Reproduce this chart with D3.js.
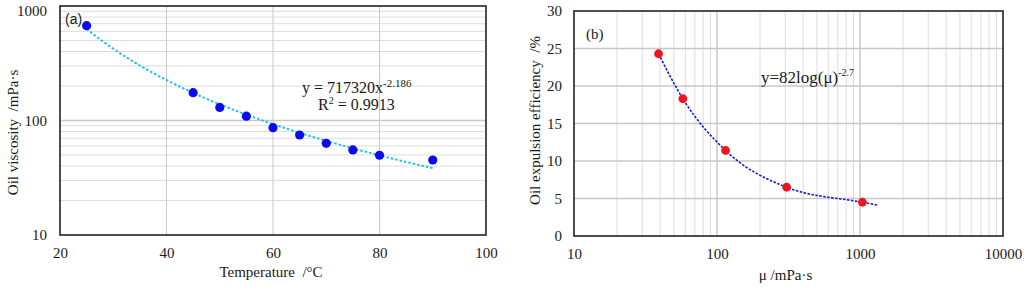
<!DOCTYPE html>
<html>
<head>
<meta charset="utf-8">
<script src="https://cdn.jsdelivr.net/npm/d3@7"></script>
<style>
  body { margin: 0; background: #ffffff; }
  svg { display: block; }
  text { font-family: "Liberation Serif", "Times New Roman", serif; fill: #1a1a1a; }
</style>
</head>
<body>
<div id="container"></div>
<script>
/* DATA */
// panel (a): oil viscosity vs temperature
const temperature = [25, 45, 50, 55, 60, 65, 70, 75, 80, 90];
const viscosity = [673, 175, 130, 109, 86.5, 74.7, 63.2, 55.3, 49.7, 45.2];
const fitCoef = 717320, fitExp = -2.186;   // power trendline shown on the chart
const xTicksA = [20, 40, 60, 80, 100];
const yTicksA = [10, 100, 1000];

// panel (b): oil expulsion efficiency vs viscosity
const mu = [39, 57.7, 114.8, 307, 1039];
const expulsion = [24.3, 18.3, 11.4, 6.5, 4.5];
// dashed trend curve
const trendMu = [39, 57.7, 114.8, 307, 1039, 1346];
const trendEff = [24.3, 18.3, 11.4, 6.5, 4.5, 4.1];
const xTicksB = [10, 100, 1000, 10000];
const yTicksB = [0, 5, 10, 15, 20, 25, 30];

/* CONSTANTS AND GLOBALS */
const width = 1024, height = 288;
const gridColor = "#dcdcdc", majorGrid = "#c8c8c8";

const svg = d3.select("#container")
  .append("svg")
  .attr("width", width)
  .attr("height", height);

/* ===== PANEL (a) ===== */
const boxA = { left: 60, right: 486, top: 6, bottom: 235 };

const xA = d3.scaleLinear().domain([20, 100]).range([boxA.left, boxA.right]);
const yA = d3.scaleLog().domain([10, 1000]).range([boxA.bottom, boxA.top]);

const gA = svg.append("g");

// minor log gridlines
gA.selectAll("line.hgrid")
  .data(yA.ticks().filter(d => !yTicksA.includes(d)))
  .join("line")
  .attr("class", "hgrid")
  .attr("x1", boxA.left).attr("x2", boxA.right)
  .attr("y1", d => yA(d)).attr("y2", d => yA(d))
  .attr("stroke", gridColor).attr("stroke-width", 1);

gA.selectAll("line.hmajor")
  .data(yTicksA.slice(1, -1))
  .join("line")
  .attr("class", "hmajor")
  .attr("x1", boxA.left).attr("x2", boxA.right)
  .attr("y1", d => yA(d)).attr("y2", d => yA(d))
  .attr("stroke", majorGrid).attr("stroke-width", 1.5);

gA.selectAll("line.vgrid")
  .data(xTicksA.slice(1, -1))
  .join("line")
  .attr("class", "vgrid")
  .attr("x1", d => xA(d)).attr("x2", d => xA(d))
  .attr("y1", boxA.top).attr("y2", boxA.bottom)
  .attr("stroke", majorGrid).attr("stroke-width", 1);

// frame
gA.append("rect")
  .attr("x", boxA.left).attr("y", boxA.top)
  .attr("width", boxA.right - boxA.left)
  .attr("height", boxA.bottom - boxA.top)
  .attr("fill", "none").attr("stroke", "#222").attr("stroke-width", 1.6);

// axes (labels only, the frame does the lines)
const axisA_x = gA.append("g")
  .attr("transform", `translate(0,${boxA.bottom})`)
  .call(d3.axisBottom(xA).tickValues(xTicksA).tickSize(0).tickPadding(12).tickFormat(d3.format("d")));
const axisA_y = gA.append("g")
  .attr("transform", `translate(${boxA.left},0)`)
  .call(d3.axisLeft(yA).tickValues(yTicksA).tickSize(0).tickPadding(13).tickFormat(d3.format("d")));
[axisA_x, axisA_y].forEach(a => {
  a.select(".domain").remove();
  a.selectAll("text").style("font-family", '"Liberation Serif", serif').style("font-size", "15px").attr("fill", "#1a1a1a");
});
// keep the top label inside the page
axisA_y.selectAll(".tick text").filter(d => d === 1000).attr("dy", "0.62em");

// trendline from the displayed power fit
const trendA = d3.range(25, 90.01, 0.5).map(t => [t, fitCoef * Math.pow(t, fitExp)]);
gA.append("path")
  .datum(trendA)
  .attr("fill", "none")
  .attr("stroke", "#1ec0ef")
  .attr("stroke-width", 2)
  .attr("stroke-dasharray", "2.5,2")
  .attr("d", d3.line().x(d => xA(d[0])).y(d => yA(d[1])));

gA.selectAll("circle.pt")
  .data(temperature.map((t, i) => ({ t, v: viscosity[i] })))
  .join("circle")
  .attr("class", "pt")
  .attr("cx", d => xA(d.t))
  .attr("cy", d => yA(d.v))
  .attr("r", 4.6)
  .attr("fill", "#0b0bf2");

// labels
gA.append("text")
  .attr("x", 65).attr("y", 24)
  .style("font-family", '"Liberation Sans", Arial, sans-serif')
  .style("font-size", "14px")
  .text("(a)");

const eqA = gA.append("text").attr("x", 302).attr("y", 93).style("font-size", "16px");
eqA.append("tspan").text("y = 717320x");
eqA.append("tspan").attr("dy", -6).style("font-size", "11px").text("-2.186");

const r2 = gA.append("text").attr("x", 318).attr("y", 110).style("font-size", "16px");
r2.append("tspan").text("R");
r2.append("tspan").attr("dy", -6).style("font-size", "10px").text("2");
r2.append("tspan").attr("dy", 6).text(" = 0.9913");

gA.append("text")
  .attr("x", (boxA.left + boxA.right) / 2 - 2)
  .attr("y", 277)
  .attr("text-anchor", "middle")
  .style("font-size", "15px")
  .style("white-space", "pre")
  .text("Temperature  /°C");

gA.append("text")
  .attr("transform", `translate(18,${(boxA.top + boxA.bottom) / 2 + 12}) rotate(-90)`)
  .attr("text-anchor", "middle")
  .style("font-size", "15px")
  .style("white-space", "pre")
  .text("Oil viscosity  /mPa·s");

/* ===== PANEL (b) ===== */
const boxB = { left: 574, right: 1003, top: 11, bottom: 236 };

const xB = d3.scaleLog().domain([10, 10000]).range([boxB.left, boxB.right]);
const yB = d3.scaleLinear().domain([0, 30]).range([boxB.bottom, boxB.top]);

const gB = svg.append("g");

gB.selectAll("line.vgrid")
  .data(xB.ticks().filter(d => !xTicksB.includes(d)))
  .join("line")
  .attr("class", "vgrid")
  .attr("x1", d => xB(d)).attr("x2", d => xB(d))
  .attr("y1", boxB.top).attr("y2", boxB.bottom)
  .attr("stroke", gridColor).attr("stroke-width", 1);

gB.selectAll("line.vmajor")
  .data(xTicksB.slice(1, -1))
  .join("line")
  .attr("class", "vmajor")
  .attr("x1", d => xB(d)).attr("x2", d => xB(d))
  .attr("y1", boxB.top).attr("y2", boxB.bottom)
  .attr("stroke", majorGrid).attr("stroke-width", 1.5);

gB.selectAll("line.hgrid")
  .data(yTicksB.slice(1, -1))
  .join("line")
  .attr("class", "hgrid")
  .attr("x1", boxB.left).attr("x2", boxB.right)
  .attr("y1", d => yB(d)).attr("y2", d => yB(d))
  .attr("stroke", majorGrid).attr("stroke-width", 1.5);

gB.append("rect")
  .attr("x", boxB.left).attr("y", boxB.top)
  .attr("width", boxB.right - boxB.left)
  .attr("height", boxB.bottom - boxB.top)
  .attr("fill", "none").attr("stroke", "#222").attr("stroke-width", 1.6);

const axisB_x = gB.append("g")
  .attr("transform", `translate(0,${boxB.bottom})`)
  .call(d3.axisBottom(xB).tickValues(xTicksB).tickSize(0).tickPadding(12).tickFormat(d3.format("d")));
const axisB_y = gB.append("g")
  .attr("transform", `translate(${boxB.left},0)`)
  .call(d3.axisLeft(yB).tickValues(yTicksB).tickSize(0).tickPadding(12).tickFormat(d3.format("d")));
[axisB_x, axisB_y].forEach(a => {
  a.select(".domain").remove();
  a.selectAll("text").style("font-family", '"Liberation Serif", serif').style("font-size", "15px").attr("fill", "#1a1a1a");
});

gB.append("path")
  .datum(trendMu.map((m, i) => [m, trendEff[i]]))
  .attr("fill", "none")
  .attr("stroke", "#1414f0")
  .attr("stroke-width", 1.6)
  .attr("stroke-dasharray", "2.5,1.5")
  .attr("d", d3.line().x(d => xB(d[0])).y(d => yB(d[1])).curve(d3.curveMonotoneX));

gB.selectAll("circle.pt")
  .data(mu.map((m, i) => ({ m, e: expulsion[i] })))
  .join("circle")
  .attr("class", "pt")
  .attr("cx", d => xB(d.m))
  .attr("cy", d => yB(d.e))
  .attr("r", 4.4)
  .attr("fill", "#f0141e");

gB.append("text")
  .attr("x", 586).attr("y", 39)
  .style("font-size", "15px")
  .text("(b)");

const eqB = gB.append("text").attr("x", 761).attr("y", 83).style("font-size", "17px");
eqB.append("tspan").text("y=82log(μ)");
eqB.append("tspan").attr("dy", -7).style("font-size", "10px").text("-2.7");

gB.append("text")
  .attr("x", (boxB.left + boxB.right) / 2 - 3)
  .attr("y", 280)
  .attr("text-anchor", "middle")
  .style("font-size", "15px")
  .text("μ /mPa·s");

gB.append("text")
  .attr("transform", `translate(540,${(boxB.top + boxB.bottom) / 2 - 3}) rotate(-90)`)
  .attr("text-anchor", "middle")
  .style("font-size", "15px")
  .style("white-space", "pre")
  .text("Oil expulsion efficiency  /%");
</script>
</body>
</html>
